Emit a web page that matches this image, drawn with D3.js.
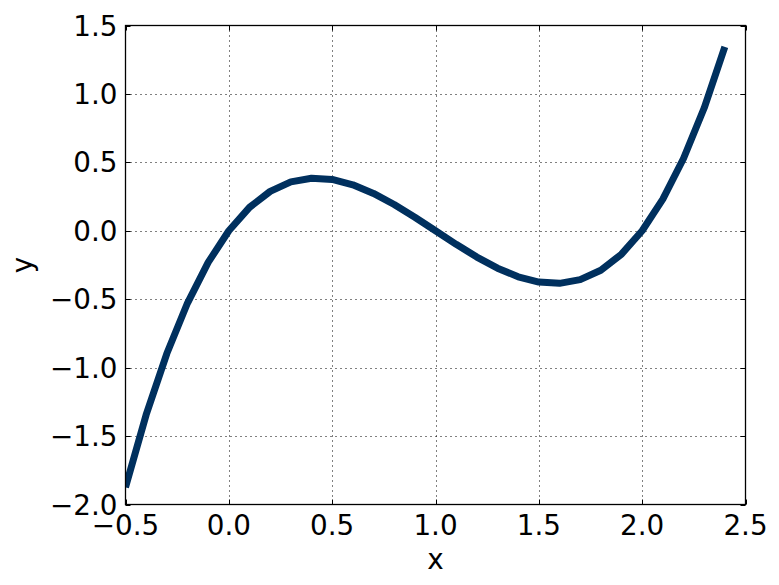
<!DOCTYPE html>
<html><head><meta charset="utf-8">
<script src="https://cdn.jsdelivr.net/npm/d3@7"></script>
<style>body{margin:0;background:#fff}svg{display:block}text{font-family:"DejaVu Sans",sans-serif;fill:#000}</style>
</head><body><svg id="c" width="779" height="585"></svg>
<script>
const xs = [-0.5,-0.4,-0.3,-0.2,-0.1,0.0,0.1,0.2,0.3,0.4,0.5,0.6,0.7,0.8,0.9,1.0,1.1,1.2,1.3,1.4,1.5,1.6,1.7,1.8,1.9,2.0,2.1,2.2,2.3,2.4];
const ys = [-1.875,-1.344,-0.897,-0.528,-0.231,0.0,0.171,0.288,0.357,0.384,0.375,0.336,0.273,0.192,0.099,0.0,-0.099,-0.192,-0.273,-0.336,-0.375,-0.384,-0.357,-0.288,-0.171,0.0,0.231,0.528,0.897,1.344];
const xTicks = [-0.5,0.0,0.5,1.0,1.5,2.0,2.5];
const yTicks = [-2.0,-1.5,-1.0,-0.5,0.0,0.5,1.0,1.5];

const L=125.5,R=745.5,T=25.5,B=504.5;
const svg=d3.select("#c");
const x=d3.scaleLinear().domain([-0.5,2.5]).range([L,R]);
const y=d3.scaleLinear().domain([-2.0,1.5]).range([B,T]);
const fmt=v=>(v<0?"\u2212":"")+Math.abs(v).toFixed(1);
const fs=27.8;

// grid
const g=svg.append("g");
g.selectAll("line.gx").data(xTicks.slice(1,-1)).join("line")
 .attr("x1",d=>Math.round(x(d))+0.5).attr("x2",d=>Math.round(x(d))+0.5).attr("y1",T).attr("y2",B)
 .attr("stroke","#000").attr("stroke-width",1).attr("stroke-dasharray","1,4");
g.selectAll("line.gy").data(yTicks.slice(1,-1)).join("line")
 .attr("y1",d=>Math.round(y(d))+0.5).attr("y2",d=>Math.round(y(d))+0.5).attr("x1",L).attr("x2",R)
 .attr("stroke","#000").attr("stroke-width",1).attr("stroke-dasharray","1,4");

// ticks inward (all four sides)
const tk=svg.append("g").attr("stroke","#000").attr("stroke-width",1);
xTicks.forEach(d=>{const px=Math.round(x(d))+0.5;
 tk.append("line").attr("x1",px).attr("x2",px).attr("y1",B).attr("y2",B-5);
 tk.append("line").attr("x1",px).attr("x2",px).attr("y1",T).attr("y2",T+5);});
yTicks.forEach(d=>{const py=Math.round(y(d))+0.5;
 tk.append("line").attr("y1",py).attr("y2",py).attr("x1",L).attr("x2",L+5);
 tk.append("line").attr("y1",py).attr("y2",py).attr("x1",R).attr("x2",R-5);});

// line
const line=d3.line().x((d,i)=>x(xs[i])).y(d=>y(d));
svg.append("clipPath").attr("id","cp").append("rect").attr("x",L).attr("y",T).attr("width",R-L).attr("height",B-T);
svg.append("path").attr("d",line(ys)).attr("fill","none").attr("stroke","#00305e").attr("stroke-width",7)
 .attr("stroke-linejoin","round").attr("clip-path","url(#cp)");

// frame
svg.append("rect").attr("x",L).attr("y",T).attr("width",R-L).attr("height",B-T).attr("fill","none").attr("stroke","#000").attr("stroke-width",1.3);

// labels
svg.selectAll("text.xt").data(xTicks).join("text").attr("x",d=>x(d)).attr("y",B+30)
 .attr("text-anchor","middle").attr("font-size",fs).text(fmt);
svg.selectAll("text.yt").data(yTicks).join("text").attr("x",L-8).attr("y",d=>y(d)+10)
 .attr("text-anchor","end").attr("font-size",fs).text(fmt);
svg.append("text").attr("x",(L+R)/2).attr("y",569).attr("text-anchor","middle").attr("font-size",fs).text("x");
svg.append("text").attr("transform",`translate(32,${(T+B)/2}) rotate(-90)`).attr("text-anchor","middle").attr("font-size",fs).text("y");
</script></body></html>
